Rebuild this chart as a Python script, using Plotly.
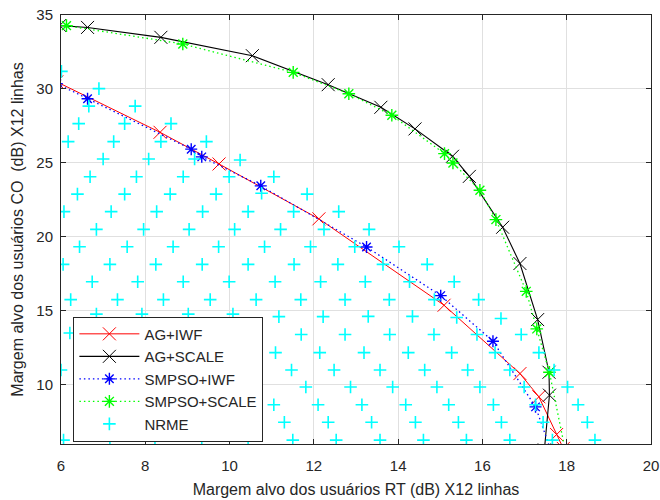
import plotly.graph_objects as go

# ---- data -------------------------------------------------------------
# AG+IWF (red, solid, x markers)
ag_iwf_x = [5.90, 8.35, 9.75, 12.12, 15.09, 16.89, 17.34, 17.76, 17.92]
ag_iwf_y = [30.48, 27.07, 24.93, 21.22, 15.38, 10.76, 9.19, 6.64, 5.70]

# AG+SCALE (black, solid, x markers)
ag_scale_x = [5.97, 6.63, 8.37, 10.54, 12.34, 13.59, 14.40, 15.29, 15.69,
              16.48, 16.89, 17.31, 17.58, 17.59, 17.47]
ag_scale_y = [34.29, 34.16, 33.49, 32.25, 30.29, 28.76, 27.30, 25.45, 24.09,
              20.65, 18.20, 14.41, 10.85, 9.30, 5.60]

# SMPSO+IWF (blue, dotted, asterisks)
smpso_iwf_x = [5.90, 6.63, 9.09, 9.34, 10.74, 13.25, 15.01, 16.25, 17.26, 17.62]
smpso_iwf_y = [30.36, 29.34, 25.93, 25.41, 23.45, 19.32, 16.03, 12.95, 8.51, 5.60]

# SMPSO+SCALE (green, dotted, asterisks)
smpso_scale_x = [6.13, 8.89, 11.51, 12.83, 13.85, 15.10, 15.30, 15.94, 16.32,
                 17.04, 17.29, 17.59, 17.97]
smpso_scale_y = [34.28, 33.04, 31.12, 29.68, 28.22, 25.63, 25.00, 23.15, 21.17,
                 16.32, 13.78, 10.85, 5.50]

# NRME (cyan crosses, scatter only)
nrme_x = [
    6.01,
    6.90,
    6.66, 7.76,
    6.42, 7.51, 8.61,
    6.17, 7.25, 8.37, 9.45,
    7.00, 8.08, 9.17, 10.25,
    6.69, 7.79, 8.90, 9.99, 11.05,
    6.39, 7.51, 8.59, 9.68, 10.76, 11.84,
    6.07, 7.19, 8.27, 9.36, 10.44, 11.52, 12.59,
    6.84, 7.96, 9.04, 10.12, 11.21, 12.24, 13.31,
    6.44, 7.57, 8.66, 9.74, 10.83, 11.92, 12.97, 14.02,
    6.05, 7.16, 8.25, 9.35, 10.44, 11.53, 12.57, 13.64, 14.69,
    6.74, 7.82, 8.90, 9.99, 11.08, 12.16, 13.22, 14.27, 15.33,
    6.23, 7.34, 8.43, 9.54, 10.63, 11.69, 12.74, 13.79, 14.86, 15.91,
    6.84, 7.92, 9.02, 10.08, 11.17, 12.22, 13.29, 14.34, 15.39, 16.44,
    6.21, 11.70, 12.74, 13.80, 14.85, 15.87, 16.92,
    11.09, 12.14, 13.19, 14.24, 15.27, 16.30, 17.34,
    6.00, 11.47, 12.48, 13.57, 14.63, 15.65, 16.65, 17.70,
    11.81, 12.87, 13.87, 14.92, 15.94, 16.99, 18.02,
    11.05, 12.10, 13.14, 14.18, 15.20, 16.26, 17.26, 18.27,
    11.30, 12.34, 13.37, 14.41, 15.43, 16.45, 17.44, 18.49,
    6.06, 7.16, 8.23, 9.34, 10.44, 11.50, 12.53, 13.57, 14.60, 15.62, 16.65, 17.66, 18.67,
]
nrme_y = [
    31.19,
    30.02,
    28.84, 28.84,
    27.66, 27.66, 27.66,
    26.44, 26.44, 26.44, 26.44,
    25.27, 25.27, 25.27, 25.20,
    24.07, 24.07, 24.07, 24.07, 24.07,
    22.89, 22.89, 22.89, 22.89, 22.95, 22.89,
    21.71, 21.71, 21.71, 21.71, 21.71, 21.71, 21.71,
    20.51, 20.51, 20.51, 20.51, 20.51, 20.51, 20.51,
    19.33, 19.33, 19.33, 19.33, 19.33, 19.33, 19.33, 19.33,
    18.14, 18.14, 18.14, 18.14, 18.14, 18.14, 18.14, 18.14, 18.14,
    16.97, 16.97, 16.97, 16.97, 16.97, 16.97, 16.97, 16.97, 16.97,
    15.76, 15.76, 15.76, 15.76, 15.76, 15.76, 15.76, 15.76, 15.76, 15.76,
    14.78, 14.78, 14.78, 14.78, 14.61, 14.61, 14.63, 14.63, 14.55, 14.48,
    13.50, 13.40, 13.40, 13.40, 13.40, 13.40, 13.40,
    12.18, 12.18, 12.18, 12.18, 12.18, 12.18, 12.18,
    11.00, 11.00, 11.00, 11.00, 11.00, 11.00, 11.00, 11.00,
    9.85, 9.85, 9.85, 9.85, 9.85, 9.85, 9.85,
    8.65, 8.65, 8.65, 8.65, 8.65, 8.65, 8.65, 8.65,
    7.47, 7.47, 7.47, 7.47, 7.47, 7.47, 7.47, 7.47,
    6.26, 6.26, 6.26, 6.26, 6.26, 6.26, 6.26, 6.26, 6.26, 6.26, 6.26, 6.26, 6.26,
]

x_ticks = [6, 8, 10, 12, 14, 16, 18, 20]
y_ticks = [10, 15, 20, 25, 30, 35]

x_title = "Margem alvo dos usuários RT (dB) X12 linhas"
y_title = "Margem alvo dos usuários CO\u00a0 (dB) X12 linhas"

# ---- figure -----------------------------------------------------------
fig = go.Figure()

fig.add_trace(go.Scatter(
    x=ag_iwf_x, y=ag_iwf_y, name="AG+IWF", mode="lines+markers",
    line=dict(color="#ff0000", width=1),
    marker=dict(symbol="x-thin", size=13, line=dict(color="#ff0000", width=1)),
))
fig.add_trace(go.Scatter(
    x=ag_scale_x, y=ag_scale_y, name="AG+SCALE", mode="lines+markers",
    line=dict(color="#000000", width=1.1),
    marker=dict(symbol="x-thin", size=13, line=dict(color="#000000", width=1)),
))
fig.add_trace(go.Scatter(
    x=smpso_iwf_x, y=smpso_iwf_y, name="SMPSO+IWF", mode="lines+markers",
    line=dict(color="#0000ff", width=1.3, dash="1.5px,3px"),
    marker=dict(symbol="asterisk", size=10, line=dict(color="#0000ff", width=1.4)),
))
fig.add_trace(go.Scatter(
    x=smpso_scale_x, y=smpso_scale_y, name="SMPSO+SCALE", mode="lines+markers",
    line=dict(color="#00ff00", width=1.3, dash="1.5px,3px"),
    marker=dict(symbol="asterisk", size=10.5, line=dict(color="#00ff00", width=1.4)),
))
fig.add_trace(go.Scatter(
    x=nrme_x, y=nrme_y, name="NRME", mode="markers",
    marker=dict(symbol="cross-thin", size=9, line=dict(color="#00ffff", width=1.6)),
))

axis_common = dict(
    showgrid=True, gridcolor="#e0e0e0", gridwidth=1,
    zeroline=False, automargin=False,
    showline=True, linecolor="#262626", linewidth=1, mirror="ticks",
    ticks="inside", ticklen=5, tickcolor="#262626", tickwidth=1,
    tickfont=dict(size=15, color="#262626"),
)

fig.update_layout(
    width=660, height=500,
    margin=dict(l=61, r=9, t=15, b=56),
    paper_bgcolor="white", plot_bgcolor="white",
    font=dict(family="Liberation Sans, Arial, Helvetica, sans-serif", color="#262626"),
    showlegend=True,
    legend=dict(
        x=0.021, y=0.297, xanchor="left", yanchor="top",
        bgcolor="white", bordercolor="#262626", borderwidth=1,
        font=dict(size=15, color="#262626"),
        itemwidth=60, tracegroupgap=0,
    ),
    xaxis=dict(
        range=[6, 20], tickvals=x_ticks, ticklabelstandoff=8,
        title=dict(text=x_title, font=dict(size=16, color="#262626"), standoff=10),
        **axis_common,
    ),
    yaxis=dict(
        range=[6, 35], tickvals=y_ticks, ticklabelstandoff=4,
        title=dict(text=y_title, font=dict(size=16, color="#262626"), standoff=8),
        **axis_common,
    ),
)

fig.write_html("out.html")
